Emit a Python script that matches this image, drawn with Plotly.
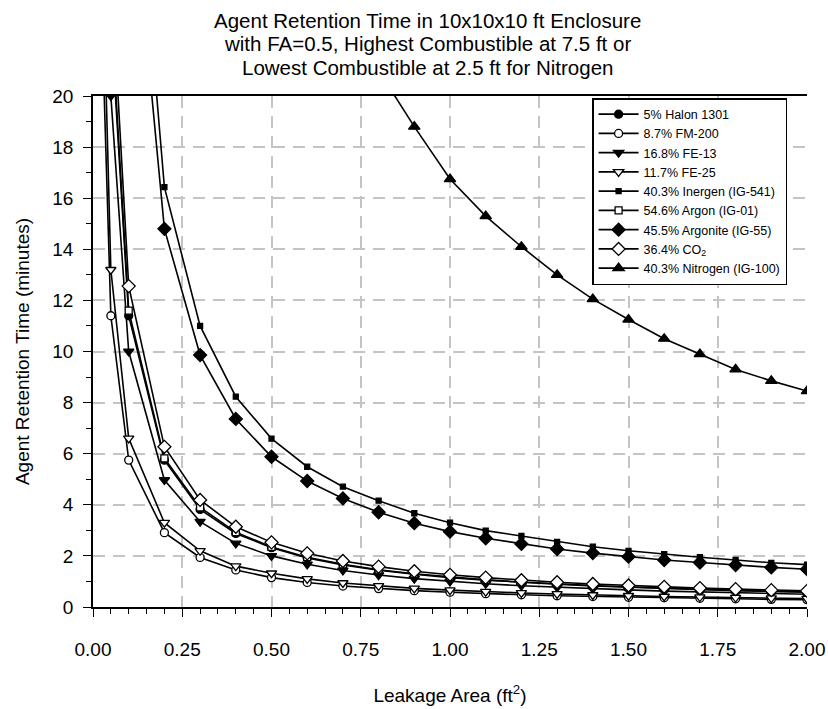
import plotly.graph_objects as go

# Leakage area (ft^2)
LEAK_AREA = [0.025, 0.05, 0.1, 0.2, 0.3, 0.4, 0.5, 0.6, 0.7, 0.8, 0.9, 1.0,
             1.1, 1.2, 1.3, 1.4, 1.5, 1.6, 1.7, 1.8, 1.9, 2.0]

# Agent retention time (minutes) (values above 20 run off the top)
HALON_1301 = [46.0, 23.0, 11.4, 5.75, 3.82, 2.88, 2.32, 1.92, 1.65, 1.44, 1.28, 1.15,
              1.05, 0.96, 0.89, 0.82, 0.77, 0.72, 0.68, 0.64, 0.61, 0.58]
FM_200 = [23.0, 11.4, 5.75, 2.91, 1.94, 1.45, 1.15, 0.96, 0.82, 0.72, 0.64, 0.58,
          0.52, 0.48, 0.44, 0.41, 0.38, 0.36, 0.34, 0.32, 0.30, 0.29]
FE_13 = [40.0, 20.0, 10.0, 4.97, 3.34, 2.49, 2.0, 1.67, 1.43, 1.25, 1.11, 1.0,
         0.91, 0.83, 0.77, 0.71, 0.67, 0.62, 0.59, 0.56, 0.53, 0.50]
FE_25 = [26.4, 13.2, 6.6, 3.3, 2.2, 1.6, 1.32, 1.1, 0.94, 0.83, 0.73, 0.66,
         0.60, 0.55, 0.51, 0.47, 0.44, 0.41, 0.39, 0.37, 0.35, 0.33]
INERGEN = [None, None, 33.0, 16.43, 11.0, 8.23, 6.59, 5.49, 4.71, 4.16, 3.67, 3.30,
           2.99, 2.78, 2.55, 2.36, 2.20, 2.07, 1.95, 1.84, 1.73, 1.66]
ARGON = [47.0, 23.4, 11.6, 5.82, 3.9, 2.93, 2.35, 1.95, 1.67, 1.46, 1.30, 1.17,
         1.06, 0.98, 0.90, 0.84, 0.78, 0.73, 0.69, 0.65, 0.62, 0.59]
ARGONITE = [None, None, 29.6, 14.8, 9.86, 7.36, 5.88, 4.93, 4.25, 3.71, 3.28, 2.95,
            2.69, 2.47, 2.27, 2.11, 1.97, 1.84, 1.74, 1.64, 1.55, 1.48]
CO2 = [50.0, 25.0, 12.56, 6.27, 4.19, 3.14, 2.53, 2.10, 1.80, 1.58, 1.40, 1.26,
       1.15, 1.05, 0.97, 0.90, 0.84, 0.79, 0.74, 0.70, 0.66, 0.63]
NITROGEN = [None, None, None, None, None, None, None, None, None, 21.0, 18.8, 16.75,
            15.3, 14.1, 13.0, 12.05, 11.25, 10.5, 9.9, 9.3, 8.85, 8.45]

SERIES = [
    ("5% Halon 1301", HALON_1301, "circle", "black", 8),
    ("8.7% FM-200", FM_200, "circle", "white", 8),
    ("16.8% FE-13", FE_13, "triangle-down", "black", 9),
    ("11.7% FE-25", FE_25, "triangle-down", "white", 9),
    ("40.3% Inergen (IG-541)", INERGEN, "square", "black", 5),
    ("54.6% Argon (IG-01)", ARGON, "square", "white", 7),
    ("45.5% Argonite (IG-55)", ARGONITE, "diamond", "black", 10),
    ("36.4% CO<sub>2</sub>", CO2, "diamond", "white", 10),
    ("40.3% Nitrogen (IG-100)", NITROGEN, "triangle-up", "black", 10),
]

TITLE_LINES = [
    "Agent Retention Time in 10x10x10 ft Enclosure",
    "with FA=0.5, Highest Combustible at 7.5 ft or",
    "Lowest Combustible at 2.5 ft for Nitrogen",
]
TITLE_Y = [1.1487, 1.1018, 1.0548]

FONT = "Liberation Sans, Arial, sans-serif"

fig = go.Figure()
for name, vals, sym, fill, size in SERIES:
    fig.add_trace(go.Scatter(
        x=LEAK_AREA, y=vals, name=name, mode="lines+markers",
        connectgaps=False,
        line=dict(color="black", width=1.6),
        marker=dict(symbol=sym, size=size, color=fill,
                    line=dict(color="black", width=1.3)),
    ))

grid = dict(showgrid=True, gridcolor="#c4c4c4", gridwidth=1.5, griddash="12px,8px")

for line, ty in zip(TITLE_LINES, TITLE_Y):
    fig.add_annotation(
        text=line, xref="paper", yref="paper",
        x=0.469, y=ty, xanchor="center", yanchor="middle",
        showarrow=False, align="center",
        font=dict(size=20.5, family=FONT, color="black"),
    )

fig.update_layout(
    width=828, height=709,
    margin=dict(l=93, r=21, t=96, b=102, autoexpand=False),
    paper_bgcolor="white", plot_bgcolor="white",
    font=dict(family=FONT, color="black"),
    showlegend=True,
    legend=dict(
        x=0.699, y=0.996, xanchor="left", yanchor="top",
        bgcolor="white", bordercolor="black", borderwidth=1.5,
        font=dict(size=12.5, family=FONT),
        itemwidth=40,
        entrywidth=165, entrywidthmode="pixels",
    ),
    xaxis=dict(
        range=[0, 2.0], dtick=0.25, tick0=0, tickformat=".2f",
        ticks="outside", ticklen=8, tickwidth=1.3, tickcolor="black",
        minor=dict(dtick=0.05, ticks="outside", ticklen=5, tickcolor="black", tickwidth=1.2,
                   showgrid=False),
        showline=True, linecolor="black", linewidth=1.6, mirror=True,
        zeroline=False, automargin=False,
        tickfont=dict(size=19),
        ticklabelstandoff=16,
        title=dict(text="Leakage Area (ft<sup>2</sup>)", font=dict(size=19), standoff=30),
        **grid,
    ),
    yaxis=dict(
        range=[0, 20], dtick=2, tick0=0,
        ticks="outside", ticklen=8, tickwidth=1.3, tickcolor="black",
        minor=dict(dtick=1, ticks="outside", ticklen=5, tickcolor="black", tickwidth=1.2,
                   showgrid=False),
        showline=True, linecolor="black", linewidth=1.6,
        zeroline=False, automargin=False,
        tickfont=dict(size=19),
        ticklabelstandoff=6,
        title=dict(text="Agent Retention Time (minutes)", font=dict(size=19), standoff=18),
        **grid,
    ),
)

# remove the default 8px page margin so the figure fills the window exactly
fig.write_html(
    "out.html",
    config={"displayModeBar": False},
    post_script="document.body.style.margin='0';document.body.style.overflow='hidden';",
)
